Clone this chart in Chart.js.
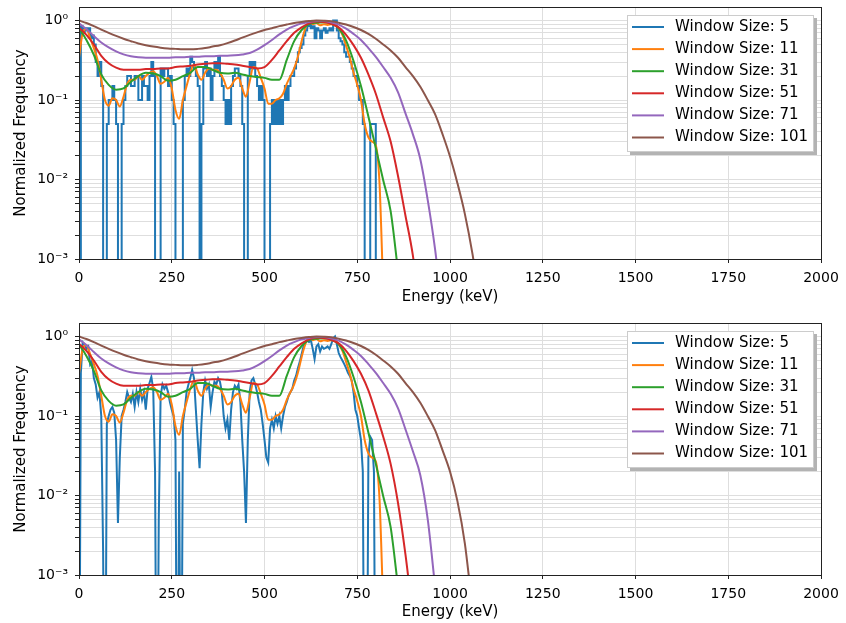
<!DOCTYPE html>
<html>
<head>
<meta charset="utf-8">
<script src="https://cdn.jsdelivr.net/npm/chart.js@4.4.0/dist/chart.umd.min.js"></script>
<style>
  body { margin: 0; background: #fff; }
  canvas { position: absolute; left: 0; }
  #top { top: 0; }
  #bottom { top: 311px; }
</style>
</head>
<body>
<canvas id="top" width="846" height="311"></canvas>
<canvas id="bottom" width="846" height="312"></canvas>
<script>
// energy bins (keV)
var energy5 = [0,5,10,15,20,25,30,35,40,45,
  50,55,60,65,70,75,80,85,90,95,
  100,105,110,115,120,125,130,135,140,145,
  150,155,160,165,170,175,180,185,190,195,
  200,205,210,215,220,225,230,235,240,245,
  250,255,260,265,270,275,280,285,290,295,
  300,305,310,315,320,325,330,335,340,345,
  350,355,360,365,370,375,380,385,390,395,
  400,405,410,415,420,425,430,435,440,445,
  450,455,460,465,470,475,480,485,490,495,
  500,505,510,515,520,525,530,535,540,545,
  550,555,560,565,570,575,580,585,590,595,
  600,605,610,615,620,625,630,635,640,645,
  650,655,660,665,670,675,680,685,690,695,
  700,705,710,715,720,725,730,735,740,745,
  750,755,760,765,770,775,780,785,790,795,
  800,805];
var energy10 = [0,10,20,30,40,50,60,70,80,90,
  100,110,120,130,140,150,160,170,180,190,
  200,210,220,230,240,250,260,270,280,290,
  300,310,320,330,340,350,360,370,380,390,
  400,410,420,430,440,450,460,470,480,490,
  500,510,520,530,540,550,560,570,580,590,
  600,610,620,630,640,650,660,670,680,690,
  700,710,720,730,740,750,760,770,780,790,
  800,810,820];
var energy20 = [0,20,40,60,80,100,120,140,160,180,
  200,220,240,260,280,300,320,340,360,380,
  400,420,440,460,480,500,520,540,560,580,
  600,620,640,660,680,700,720,740,760,780,
  800,820,840,860,880,900,920,940,960,980,
  1000,1020,1040,1060,1080];

var labels = ['Window Size: 5', 'Window Size: 11', 'Window Size: 31',
  'Window Size: 51', 'Window Size: 71', 'Window Size: 101'];

// top panel, window 5 (counts are quantised)
var topW5 = [0,0.85,0.7,0.8,0.75,0.8,0.6,0.65,0.5,0.3,
  0.2,0.3,0.15,0,0,0.05,0.1,0.1,0.15,0.1,
  0.05,0,0,0.05,0.1,0.15,0.2,0.2,0.15,0.15,
  0.2,0.2,0.1,0.1,0.2,0.15,0.15,0.1,0.2,0.3,
  0.2,0,0,0,0.25,0.2,0.25,0.25,0.15,0.2,
  0.1,0.05,0,0,0,0,0.1,0.2,0.25,0.2,
  0.35,0.3,0.25,0.2,0.15,0,0.05,0.25,0.3,0.2,
  0.25,0.1,0.2,0.3,0.25,0.35,0.2,0.15,0.1,0.05,
  0.1,0.05,0.15,0.2,0.25,0.25,0.2,0.15,0.05,0,
  0,0.2,0.3,0.25,0.3,0.2,0.15,0.1,0.15,0.1,
  0,0,0,0.05,0.1,0.05,0.1,0.05,0.1,0.05,
  0.1,0.15,0.1,0.15,0.2,0.2,0.25,0.3,0.4,0.45,
  0.5,0.65,0.75,0.85,0.9,0.8,0.85,0.6,0.8,0.75,
  0.6,0.75,0.8,0.7,0.75,0.8,0.75,1.0,1.0,0.75,
  0.6,0.55,0.5,0.4,0.35,0.35,0.3,0.25,0.2,0.2,
  0.15,0.1,0.1,0.05,0,0,0,0.05,0.05,0.05,
  0,0];

// bottom panel, window 5
var botW5 = [0,0.35,0.85,0.8,0.7,0.75,0.45,0.5,0.3,0.25,
  0.17,0.2,0.1,0.002,0,0.08,0.1,0.12,0.13,0.11,
  0.05,0.0045,0.03,0.1,0.12,0.15,0.2,0.17,0.15,0.19,
  0.13,0.2,0.15,0.22,0.16,0.2,0.12,0.22,0.26,0.31,
  0.22,0.02,0,0.005,0.18,0.25,0.22,0.24,0.2,0.15,
  0.12,0.1,0.05,0,0.02,0,0.08,0.12,0.2,0.25,
  0.3,0.38,0.3,0.12,0.05,0.022,0.08,0.2,0.28,0.22,
  0.25,0.13,0.2,0.27,0.25,0.3,0.27,0.2,0.1,0.07,
  0.09,0.05,0.12,0.2,0.24,0.22,0.25,0.15,0.05,0.02,
  0.0045,0.05,0.2,0.28,0.3,0.25,0.2,0.15,0.12,0.08,
  0.05,0.03,0.026,0.07,0.09,0.07,0.1,0.08,0.1,0.07,
  0.1,0.13,0.15,0.18,0.2,0.22,0.28,0.32,0.4,0.48,
  0.6,0.75,0.85,0.9,0.85,0.9,0.7,0.52,0.75,0.8,
  0.65,0.75,0.7,0.72,0.75,0.7,0.8,0.95,1.0,0.8,
  0.62,0.55,0.5,0.45,0.4,0.35,0.32,0.28,0.2,0.12,
  0.1,0.07,0.05,0.02,0,0,0.03,0.055,0.05,0.02,
  0,0];

// window 11 (same in both panels)
var w11 = [0.34,0.7,0.78,0.6,0.45,0.32,0.18,0.1,0.085,0.105,
  0.1,0.083,0.11,0.16,0.18,0.18,0.2,0.18,0.2,0.22,
  0.23,0.2,0.16,0.17,0.19,0.14,0.075,0.058,0.1,0.15,
  0.22,0.28,0.21,0.18,0.22,0.25,0.24,0.24,0.22,0.18,
  0.14,0.15,0.18,0.19,0.14,0.11,0.17,0.26,0.25,0.19,
  0.14,0.09,0.09,0.1,0.105,0.12,0.16,0.2,0.25,0.35,
  0.55,0.8,0.98,0.9,0.93,0.87,0.9,0.88,0.9,0.9,
  0.8,0.66,0.48,0.34,0.22,0.155,0.1,0.05,0.034,0.03,
  0.027,0.009,0.0004];

// window 31 (same in both panels)
var w31 = [0.8,0.57,0.37,0.21,0.155,0.135,0.14,0.17,0.2,0.22,
  0.215,0.2,0.175,0.18,0.2,0.22,0.26,0.26,0.24,0.22,
  0.215,0.22,0.21,0.2,0.195,0.19,0.18,0.18,0.32,0.55,
  0.76,0.9,0.94,0.95,0.91,0.8,0.56,0.31,0.15,0.062,
  0.025,0.0098,0.004,0.0007];

var topW51 = [0.81,0.66,0.5,0.36,0.29,0.255,0.24,0.24,0.24,0.245,
  0.245,0.25,0.25,0.26,0.265,0.27,0.28,0.285,0.29,0.29,
  0.285,0.28,0.27,0.26,0.25,0.26,0.32,0.42,0.55,0.7,
  0.82,0.92,0.97,0.96,0.91,0.82,0.66,0.49,0.34,0.21,
  0.12,0.06,0.03,0.011,0.0035,0.0011,0.0002];
var botW51 = [0.81,0.66,0.5,0.36,0.29,0.255,0.24,0.24,0.24,0.245,
  0.245,0.25,0.25,0.26,0.265,0.27,0.28,0.285,0.29,0.29,
  0.285,0.28,0.27,0.26,0.25,0.26,0.32,0.42,0.55,0.7,
  0.82,0.92,0.97,0.96,0.91,0.82,0.66,0.49,0.34,0.21,
  0.11,0.055,0.025,0.008,0.0018,0.0003];

var topW71 = [0.92,0.78,0.64,0.53,0.46,0.41,0.375,0.355,0.345,0.34,
  0.34,0.34,0.34,0.345,0.345,0.35,0.35,0.355,0.355,0.36,
  0.36,0.365,0.375,0.39,0.43,0.49,0.57,0.67,0.77,0.85,
  0.92,0.96,0.99,0.99,0.95,0.89,0.79,0.68,0.57,0.45,
  0.35,0.26,0.19,0.125,0.068,0.037,0.018,0.0055,0.0013,0.0002];
var botW71 = [0.92,0.78,0.64,0.53,0.46,0.41,0.375,0.355,0.345,0.34,
  0.34,0.34,0.34,0.345,0.345,0.35,0.35,0.355,0.355,0.36,
  0.36,0.365,0.375,0.39,0.43,0.49,0.57,0.67,0.77,0.85,
  0.92,0.96,0.99,0.99,0.95,0.89,0.79,0.68,0.57,0.45,
  0.35,0.26,0.19,0.125,0.068,0.036,0.018,0.005,0.0007];

var topW101 = [1.0,0.93,0.85,0.77,0.7,0.64,0.59,0.55,0.515,0.49,
  0.47,0.455,0.445,0.44,0.435,0.435,0.44,0.45,0.47,0.49,
  0.52,0.56,0.61,0.66,0.71,0.76,0.8,0.85,0.89,0.93,
  0.96,0.985,1.0,0.995,0.98,0.94,0.89,0.83,0.76,0.68,
  0.59,0.5,0.42,0.34,0.26,0.2,0.147,0.1,0.066,0.037,
  0.0195,0.009,0.0037,0.0012,0.0003];
var botW101 = [1.0,0.93,0.85,0.77,0.7,0.64,0.59,0.55,0.515,0.49,
  0.47,0.455,0.445,0.44,0.435,0.435,0.44,0.45,0.47,0.49,
  0.52,0.56,0.61,0.66,0.71,0.76,0.8,0.85,0.89,0.93,
  0.96,0.985,1.0,0.995,0.98,0.94,0.89,0.83,0.76,0.68,
  0.59,0.5,0.42,0.34,0.26,0.2,0.147,0.1,0.066,0.037,
  0.02,0.0085,0.0025,0.0004];

var yTicks = [0.001,0.002,0.003,0.004,0.005,0.006,0.007,0.008,0.009,
  0.01,0.02,0.03,0.04,0.05,0.06,0.07,0.08,0.09,
  0.1,0.2,0.3,0.4,0.5,0.6,0.7,0.8,0.9,1];
var yTickLabels = ['10\u207B\u00B3','','','','','','','','',
  '10\u207B\u00B2','','','','','','','','',
  '10\u207B\u00B9','','','','','','','','',
  '10\u2070'];

var colors = ['#1f77b4', '#ff7f0e', '#2ca02c', '#d62728', '#9467bd', '#8c564b'];
var gridColor = '#dedede';

Chart.defaults.font.family = '"DejaVu Sans"';
Chart.defaults.font.size = 14;
Chart.defaults.color = '#000';

// zero counts fall below the log axis
function pts(xs, ys) {
  return ys.map(function(v, i) { return {x: xs[i], y: v > 0 ? v : 1e-6}; });
}

// frame round the axes and the boxed legend with its shadow
var frameLegend = {
  id: 'frameLegend',
  afterDraw: function(chart) {
    var a = chart.chartArea, ctx = chart.ctx;
    ctx.save();
    ctx.strokeStyle = '#222';
    ctx.lineWidth = 1;
    ctx.strokeRect(Math.round(a.left) + 0.5, Math.round(a.top) + 0.5,
      Math.round(a.right) - Math.round(a.left), Math.round(a.bottom) - Math.round(a.top));

    var w = 187, h = 137;
    var x = Math.round(a.right) - 7 - w, y = Math.round(a.top) + 8;
    ctx.fillStyle = '#b3b3b3';
    ctx.fillRect(x + 3, y + 3, w, h);
    ctx.fillStyle = '#fff';
    ctx.fillRect(x, y, w, h);
    ctx.strokeStyle = '#cccccc';
    ctx.strokeRect(x + 0.5, y + 0.5, w - 1, h - 1);
    ctx.font = '15px "DejaVu Sans"';
    ctx.textBaseline = 'middle';
    chart.data.datasets.forEach(function(ds, i) {
      var cy = y + 12 + i * 22.1;
      ctx.strokeStyle = ds.borderColor;
      ctx.lineWidth = 2;
      ctx.beginPath();
      ctx.moveTo(x + 5, cy);
      ctx.lineTo(x + 37, cy);
      ctx.stroke();
      ctx.fillStyle = '#000';
      ctx.fillText(ds.label, x + 48, cy);
    });
    ctx.restore();
  }
};

function makeChart(id, w5, stepped, w51, w71, w101, padTop, axisH, titlePad) {
  var series = [pts(energy5, w5), pts(energy10, w11), pts(energy20, w31),
    pts(energy20, w51), pts(energy20, w71), pts(energy20, w101)];
  var datasets = series.map(function(d, i) {
    return {
      label: labels[i],
      data: d,
      borderColor: colors[i],
      borderWidth: 2,
      pointRadius: 0,
      fill: false,
      stepped: i === 0 ? stepped : false,
      cubicInterpolationMode: i === 0 ? 'default' : 'monotone',
      order: 5 - i
    };
  });

  return new Chart(document.getElementById(id), {
    type: 'line',
    data: {datasets: datasets},
    plugins: [frameLegend],
    options: {
      responsive: false,
      animation: false,
      events: [],
      layout: {padding: {top: padTop, right: 25, left: 0, bottom: 0}},
      plugins: {legend: {display: false}, tooltip: {enabled: false}},
      scales: {
        x: {
          type: 'linear', min: 0, max: 2000,
          ticks: {stepSize: 250, padding: 7, maxRotation: 0, autoSkip: false,
            callback: function(v) { return String(v); }},
          grid: {color: gridColor, tickColor: '#222', tickLength: 4},
          border: {display: false},
          title: {display: true, text: 'Energy (keV)', font: {size: 15},
            padding: {top: 0, bottom: titlePad}},
          afterFit: function(s) { s.height = axisH; s.paddingLeft = 0; s.paddingRight = 0; }
        },
        y: {
          type: 'logarithmic', min: 0.001, max: 1.48,
          afterBuildTicks: function(s) {
            s.ticks = yTicks.map(function(v) { return {value: v}; });
          },
          ticks: {autoSkip: false, padding: 7,
            callback: function(v, i) { return yTickLabels[i]; }},
          grid: {color: gridColor, tickColor: '#222', tickLength: 4},
          border: {display: false},
          title: {display: true, text: 'Normalized Frequency', font: {size: 15},
            padding: {top: 12, bottom: 0}},
          afterFit: function(s) { s.width = 79; s.paddingTop = 0; s.paddingBottom = 0; }
        }
      }
    }
  });
}

makeChart('top', topW5, true, topW51, topW71, topW101, 7, 52, 5);
makeChart('bottom', botW5, false, botW51, botW71, botW101, 12, 48, 2);
</script>
</body>
</html>
